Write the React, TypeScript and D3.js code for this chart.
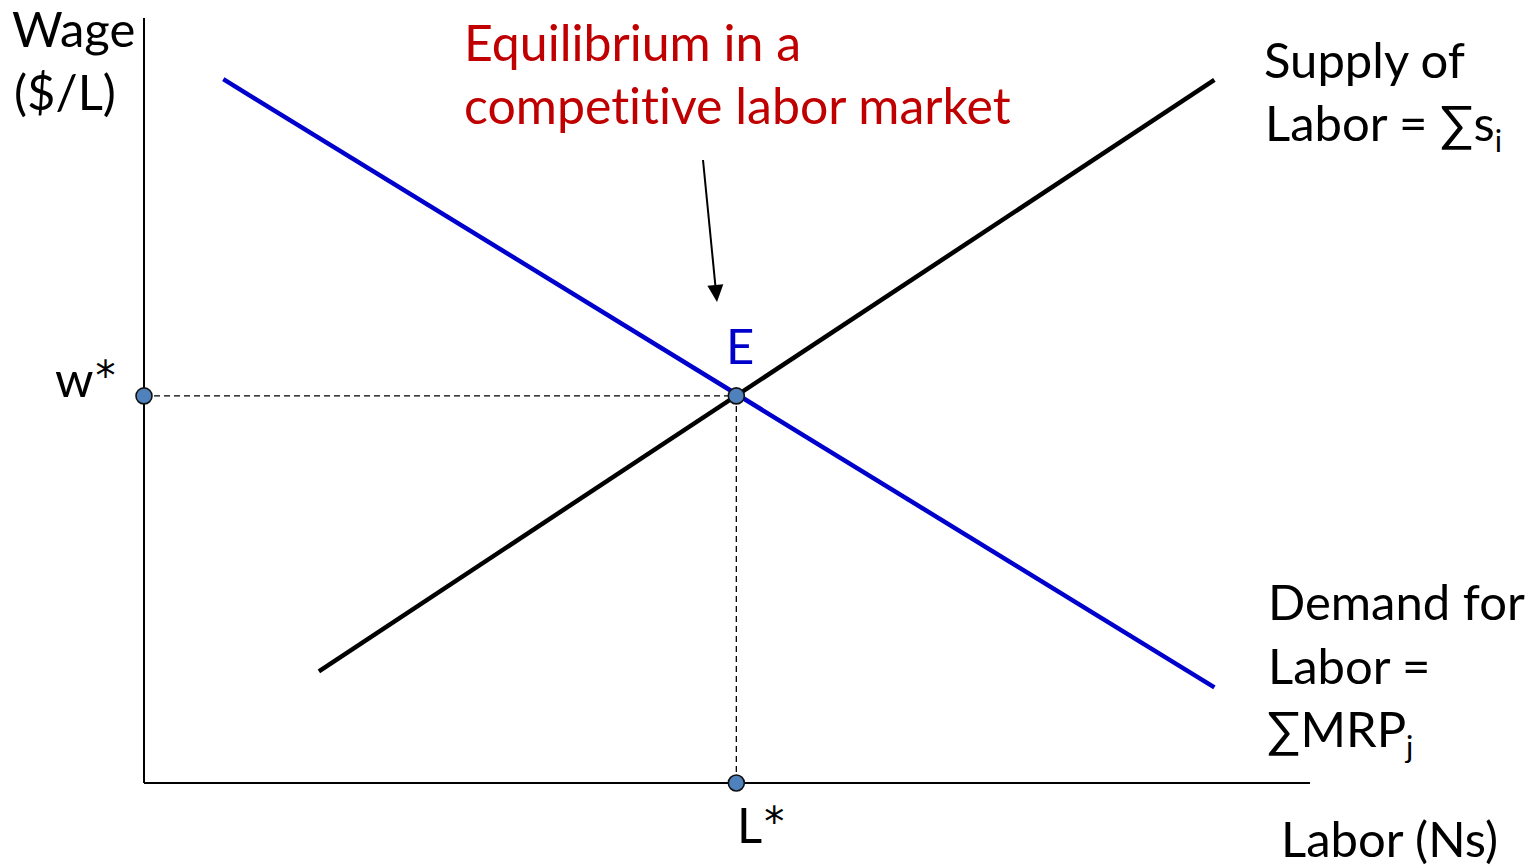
import React from 'react';
import * as d3 from 'd3';

// curve end points in chart units (labor, wage)
const demandPoints = [
  { labor: 6.8, wage: 92.0 },
  { labor: 91.8, wage: 12.5 },
];
const supplyPoints = [
  { labor: 15.0, wage: 14.6 },
  { labor: 91.8, wage: 91.9 },
];
const equilibrium = { labor: 50.8, wage: 50.6 };

const yTitle = ['Wage', '($/L)'];
const xTitle = 'Labor (Ns)';
const noteLines = ['Equilibrium in a', 'competitive labor market'];
const supplyLabel = ['Supply of', 'Labor = ∑s'];
const demandLabel = ['Demand for', 'Labor =', '∑MRP'];

const W = 1532;
const H = 868;
const FONT = 'Lato, "Noto Sans", sans-serif';
const FS = 49;
const BLUE = '#0000CC';
const RED = '#C00000';
const DOT = '#4F81BD';

const Star = () => (
  <tspan fontFamily='"DejaVu Sans", sans-serif' fontSize={40} dx={2} dy={-7}>*</tspan>
);

const App = () => {
  const x = d3.scaleLinear().domain([0, 100]).range([144, 1310]);
  const y = d3.scaleLinear().domain([0, 100]).range([783, 18]);

  const line = d3.line<{ labor: number; wage: number }>()
    .x(d => x(d.labor))
    .y(d => y(d.wage));

  const ex = x(equilibrium.labor);
  const ey = y(equilibrium.wage);

  // arrow pointing at E
  const a0 = [703, 160];
  const a1 = [717, 302];
  const ang = Math.atan2(a1[1] - a0[1], a1[0] - a0[0]);
  const hl = 17;
  const hw = 8;
  const bx = a1[0] - hl * Math.cos(ang);
  const by = a1[1] - hl * Math.sin(ang);
  const head = [
    [a1[0], a1[1]],
    [bx + hw * Math.sin(ang), by - hw * Math.cos(ang)],
    [bx - hw * Math.sin(ang), by + hw * Math.cos(ang)],
  ];

  return (
    <div style={{ position: 'absolute', left: 0, top: 0 }}>
      <svg width={W} height={H} style={{ display: 'block', background: '#fff', fontVariantLigatures: 'none' }}
        fontFamily={FONT} fontSize={FS}>
        {/* axes */}
        <line x1={x(0)} y1={y(0)} x2={x(0)} y2={18} stroke="#000" strokeWidth={2} />
        <line x1={x(0)} y1={y(0)} x2={x(100)} y2={y(0)} stroke="#000" strokeWidth={2} />

        {/* guides */}
        <line x1={x(0)} y1={ey} x2={ex} y2={ey} stroke="#000" strokeWidth={1.3} strokeDasharray="6,4" />
        <line x1={ex} y1={ey} x2={ex} y2={y(0)} stroke="#000" strokeWidth={1.3} strokeDasharray="6,4" />

        {/* curves */}
        <path d={line(demandPoints) ?? ''} fill="none" stroke={BLUE} strokeWidth={4.5} />
        <path d={line(supplyPoints) ?? ''} fill="none" stroke="#000" strokeWidth={4.5} />

        {/* dots */}
        {[[ex, ey], [x(0), ey], [ex, y(0)]].map(([cx, cy], i) => (
          <circle key={i} cx={cx} cy={cy} r={8} fill={DOT} stroke="#111" strokeWidth={1.6} />
        ))}

        {/* arrow */}
        <line x1={a0[0]} y1={a0[1]} x2={bx} y2={by} stroke="#000" strokeWidth={2} />
        <polygon points={head.map(p => p.join(',')).join(' ')} fill="#000" />

        {/* labels */}
        <text x={12} y={47}>{yTitle[0]}</text>
        <text x={14} y={110}>{yTitle[1]}</text>
        <text x={1281} y={857}>{xTitle}</text>
        <text x={55} y={397}>w<Star /></text>
        <text x={737} y={843}>L<Star /></text>
        <text x={726} y={364} fill={BLUE}>E</text>

        <text x={464} y={61} fill={RED} fontSize={50}>{noteLines[0]}</text>
        <text x={464} y={124} fill={RED} fontSize={50}>{noteLines[1]}</text>

        <text x={1264} y={78}>{supplyLabel[0]}</text>
        <text x={1265} y={141}>
          {supplyLabel[1]}
          <tspan fontSize={FS * 0.62} dy={11}>i</tspan>
        </text>

        <text x={1268} y={620}>{demandLabel[0]}</text>
        <text x={1268} y={684}>{demandLabel[1]}</text>
        <text x={1267} y={747}>
          {demandLabel[2]}
          <tspan fontSize={FS * 0.62} dy={11}>j</tspan>
        </text>
      </svg>
    </div>
  );
};

export default App;
